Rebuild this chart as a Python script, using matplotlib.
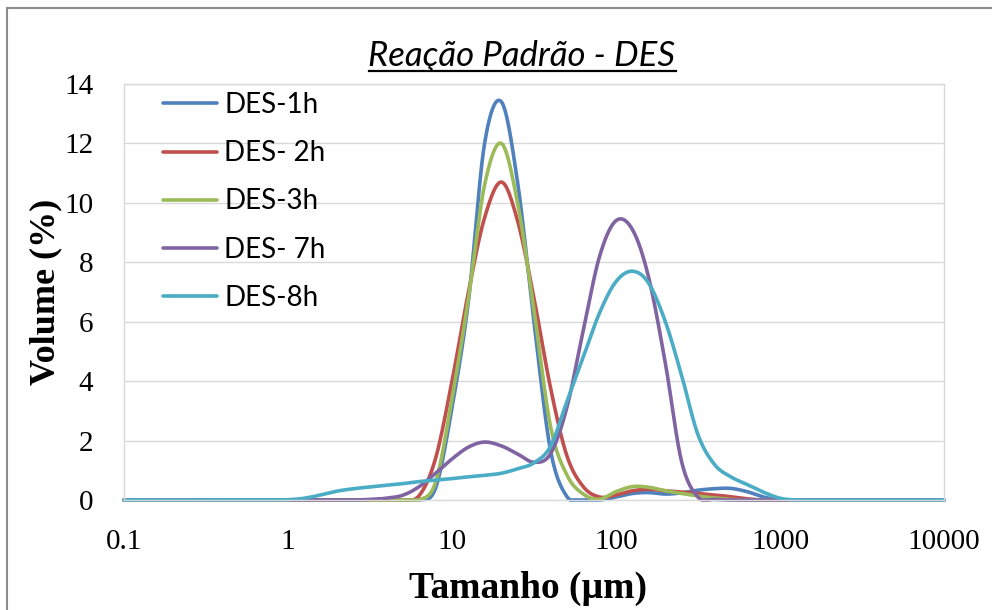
import numpy as np
import matplotlib
matplotlib.use("Agg")
import matplotlib.pyplot as plt
from matplotlib.lines import Line2D
from matplotlib.patches import Rectangle
from matplotlib import font_manager as fm

# ---------------- data ----------------
sizes_um = [0.1, 0.126, 0.158, 0.2, 0.251, 0.316, 0.398, 0.501, 0.631, 0.794,
            1.0, 1.26, 1.58, 2.0, 2.51, 3.16, 3.98, 5.01, 6.31, 7.94,
            10.0, 12.6, 15.8, 20.0, 25.1, 31.6, 39.8, 50.1, 63.1, 79.4,
            100, 126, 158, 200, 251, 316, 398, 501, 631, 794,
            1000, 1259, 1585, 1995, 2512, 3162, 3981, 5012, 6310, 7943, 10000]

des_1h = [0, 0, 0, 0, 0, 0, 0, 0, 0, 0,
          0, 0, 0, 0, 0, 0, 0, 0, 0, 0.4,
          3.1, 6.7, 12.0, 13.4, 10.7, 6.0, 1.7, 0.12, 0.0, 0.0,
          0.1, 0.22, 0.25, 0.2, 0.24, 0.33, 0.38, 0.39, 0.28, 0.1,
          0, 0, 0, 0, 0, 0, 0, 0, 0, 0, 0]
des_2h = [0, 0, 0, 0, 0, 0, 0, 0, 0, 0,
          0, 0, 0, 0, 0, 0, 0, 0, 0.15, 1.4,
          4.0, 7.0, 9.5, 10.7, 9.4, 6.8, 3.8, 1.5, 0.45, 0.1,
          0.17, 0.31, 0.36, 0.31, 0.27, 0.22, 0.17, 0.11, 0.04, 0,
          0, 0, 0, 0, 0, 0, 0, 0, 0, 0, 0]
des_3h = [0, 0, 0, 0, 0, 0, 0, 0, 0, 0,
          0, 0, 0, 0, 0, 0, 0, 0, 0, 0.6,
          3.4, 6.8, 10.6, 12.0, 10.0, 6.4, 2.5, 0.85, 0.2, 0.03,
          0.28, 0.45, 0.43, 0.31, 0.22, 0.13, 0.07, 0.02, 0, 0,
          0, 0, 0, 0, 0, 0, 0, 0, 0, 0, 0]
des_7h = [0, 0, 0, 0, 0, 0, 0, 0, 0, 0,
          0, 0, 0, 0, 0, 0.02, 0.06, 0.16, 0.45, 0.9,
          1.38, 1.78, 1.95, 1.82, 1.55, 1.27, 1.55, 3.1, 5.7, 8.2,
          9.4, 9.1, 7.5, 4.6, 1.3, 0.1, 0.02, 0, 0, 0,
          0, 0, 0, 0, 0, 0, 0, 0, 0, 0, 0]
des_8h = [0, 0, 0, 0, 0, 0, 0, 0, 0, 0,
          0.01, 0.06, 0.17, 0.3, 0.38, 0.44, 0.5, 0.55, 0.62, 0.67,
          0.72, 0.78, 0.83, 0.9, 1.05, 1.25, 1.8, 3.3, 4.8, 6.3,
          7.35, 7.7, 7.3, 6.0, 4.2, 2.2, 1.2, 0.78, 0.52, 0.26,
          0.06, 0, 0, 0, 0, 0, 0, 0, 0, 0, 0]

series_labels = ["DES-1h", "DES- 2h", "DES-3h", "DES- 7h", "DES-8h"]
series_values = [des_1h, des_2h, des_3h, des_7h, des_8h]
series_colors = ["#4F81BD", "#C0504D", "#9BBB59", "#8064A2", "#4BACC6"]

x_ticks = [0.1, 1, 10, 100, 1000, 10000]
x_tick_labels = ["0.1", "1", "10", "100", "1000", "10000"]
y_ticks = [0, 2, 4, 6, 8, 10, 12, 14]

title_text = "Reação Padrão - DES"
xlabel_text = "Tamanho (µm)"
ylabel_text = "Volume (%)"

# ---------------- fonts ----------------
avail = {f.name for f in fm.fontManager.ttflist}
def pick(*names):
    for n in names:
        if n in avail:
            return n
    return "DejaVu Sans"
SANS = pick("Lato", "Open Sans", "Liberation Sans", "DejaVu Sans")
SERIF = pick("Liberation Serif", "DejaVu Serif")

# ------------- smoothing like Excel (Catmull-Rom / Bezier) -------------
def smooth_curve(xs, ys, n=24):
    lx = np.log10(np.asarray(xs, float))
    y = np.asarray(ys, float)
    P = np.column_stack([lx, y])
    out = []
    m = len(P)
    t = np.linspace(0, 1, n, endpoint=False)[:, None]
    for i in range(m - 1):
        p0 = P[i - 1] if i > 0 else P[i]
        p1 = P[i]
        p2 = P[i + 1]
        p3 = P[i + 2] if i + 2 < m else P[i + 1]
        c1 = p1 + (p2 - p0) / 6.0
        c2 = p2 - (p3 - p1) / 6.0
        b = ((1 - t) ** 3) * p1 + 3 * ((1 - t) ** 2) * t * c1 + 3 * (1 - t) * t ** 2 * c2 + t ** 3 * p2
        out.append(b)
    out.append(P[-1][None, :])
    out = np.vstack(out)
    return 10 ** out[:, 0], np.maximum(out[:, 1], 0.0)

# ---------------- figure ----------------
W, H = 992, 610
fig = plt.figure(figsize=(W / 100, H / 100), dpi=100)
fig.patch.set_facecolor("white")

def fx(px):
    return px / W
def fy(py):
    return 1 - py / H

L, R, T, B = 124, 944, 84, 500
ax = fig.add_axes([fx(L), fy(B), (R - L) / W, (B - T) / H])
ax.set_xscale("log")
ax.set_xlim(0.1, 10000)
ax.set_ylim(0, 14)

ax.set_xticks(x_ticks)
ax.set_xticklabels(x_tick_labels)
ax.xaxis.set_minor_locator(matplotlib.ticker.NullLocator())
ax.set_yticks(y_ticks)
ax.set_yticklabels([str(v) for v in y_ticks])
ax.tick_params(axis="both", length=0, labelsize=21, colors="#000000")
ax.tick_params(axis="x", pad=21)
ax.tick_params(axis="y", pad=22)
for lab in ax.get_xticklabels() + ax.get_yticklabels():
    lab.set_fontfamily(SERIF)

ax.grid(axis="y", color="#D9D9D9", linewidth=1.0)
ax.grid(axis="x", visible=False)
ax.set_axisbelow(True)
for s in ax.spines.values():
    s.set_color("#D9D9D9")
    s.set_linewidth(1.0)

handles = []
for lab, vals, col in zip(series_labels, series_values, series_colors):
    sx, sy = smooth_curve(sizes_um, vals)
    ln, = ax.plot(sx, sy, color=col, linewidth=2.6, label=lab,
                  solid_capstyle="round", solid_joinstyle="round", clip_on=False)
    handles.append(ln)

leg = ax.legend(handles=handles, labels=series_labels, loc="upper left",
                bbox_to_anchor=(fx(163), fy(92)), bbox_transform=fig.transFigure,
                frameon=False, borderpad=0, borderaxespad=0,
                handlelength=1.95, handletextpad=0.25, labelspacing=0.8,
                prop={"family": SANS, "size": 20})
for t in leg.get_texts():
    t.set_color("#000000")

# axis labels
fig.text(fx(46), fy(292), ylabel_text, rotation=90, ha="center", va="center",
         fontsize=26, fontweight="bold", fontfamily=SERIF)
fig.text(fx(528), fy(588), xlabel_text, ha="center", va="center",
         fontsize=27, fontweight="bold", fontfamily=SERIF)

# title (italic, underlined)
ttl = fig.text(fx(522), fy(66), title_text, ha="center", va="baseline",
               fontsize=25, fontstyle="italic", fontfamily=SANS)
fig.canvas.draw()
bb = ttl.get_window_extent(renderer=fig.canvas.get_renderer())
x0, x1 = bb.x0 / W, bb.x1 / W
fig.add_artist(Line2D([x0, x1], [fy(71), fy(71)], transform=fig.transFigure,
                      color="#000000", linewidth=1.6))

# chart-area border (extends past the right/bottom of the picture)
fig.add_artist(Rectangle((fx(7), fy(H + 20)), (W + 20) / W, (H + 12) / H,
                         transform=fig.transFigure, fill=False,
                         edgecolor="#8C8C8C", linewidth=1.5, clip_on=False))

fig.savefig("out.png", dpi=100, facecolor="white")
